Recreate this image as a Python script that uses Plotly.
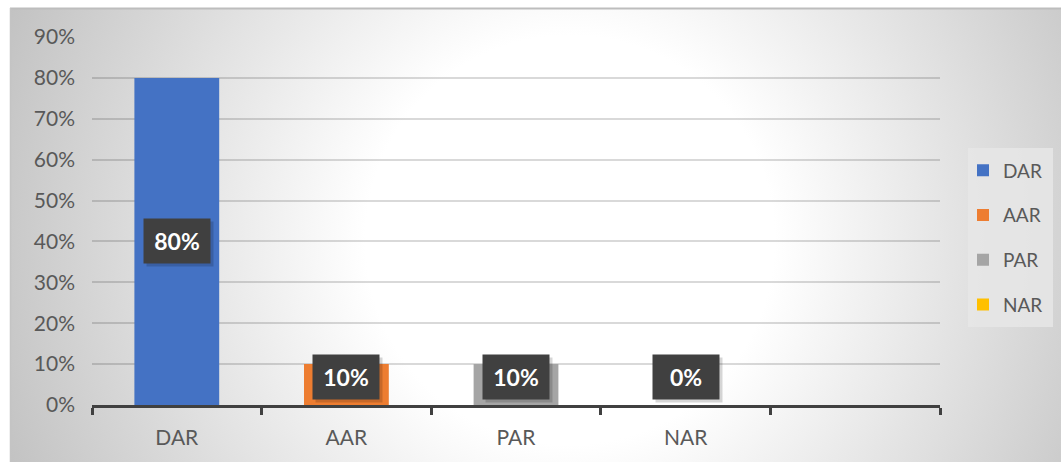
import base64
import plotly.graph_objects as go

# ---- data ----
categories = ["DAR", "AAR", "PAR", "NAR"]
values = [0.80, 0.10, 0.10, 0.00]
colors = ["#4472C4", "#ED7D31", "#A5A5A5", "#FFC000"]
y_max = 0.9
y_step = 0.1

W, H = 1061, 462
ML, MR, MT, MB = 92, 121, 37, 57
n_slots = len(categories) + 1  # one empty trailing slot

# ---- background (radial gradient panel + legend box) ----
svg = f'''<svg xmlns="http://www.w3.org/2000/svg" width="{W}" height="{H}" viewBox="0 0 {W} {H}">
<defs>
<radialGradient id="g" gradientUnits="userSpaceOnUse" cx="570" cy="240" r="620">
<stop offset="0" stop-color="#ffffff"/>
<stop offset="0.33" stop-color="#ffffff"/>
<stop offset="1" stop-color="#c0c0c0"/>
</radialGradient>
</defs>
<rect x="0" y="0" width="{W}" height="{H}" fill="#ffffff"/>
<rect x="10" y="8" width="{W}" height="{H}" fill="url(#g)"/>
<line x1="10" y1="8.5" x2="{W}" y2="8.5" stroke="#bdbdbd" stroke-width="2"/>
<line x1="10.5" y1="8" x2="10.5" y2="{H}" stroke="#c4c4c4" stroke-width="1.5"/>
<rect x="968" y="148" width="85" height="179" fill="#e6e6e6" fill-opacity="0.85"/>
</svg>'''
bg_src = "data:image/svg+xml;base64," + base64.b64encode(svg.encode()).decode()

pw = W - ML - MR
ph = H - MT - MB
FONT = "Lato, Open Sans, sans-serif"

fig = go.Figure()
for i, (c, v, col) in enumerate(zip(categories, values, colors)):
    fig.add_trace(go.Bar(
        x=[i], y=[v], name=c, marker=dict(color=col, line=dict(width=0)),
        width=0.5, legendgroup=c, hoverinfo="skip",
    ))

annotations = []
for i, v in enumerate(values):
    ylab = max(v / 2, 0.068)
    annotations.append(dict(
        x=i, y=ylab, xref="x", yref="y", text=" ", showarrow=False,
        width=64, height=42, bgcolor="rgba(0,0,0,0.16)", xshift=3, yshift=-3,
    ))
    annotations.append(dict(
        x=i, y=ylab, xref="x", yref="y", text=f"<b>{v:.0%}</b>", showarrow=False,
        width=64, height=42, bgcolor="#404040", valign="middle",
        font=dict(family=FONT, size=23, color="#ffffff"),
    ))

fig.update_layout(
    width=W, height=H,
    margin=dict(l=ML, r=MR, t=MT, b=MB, pad=0),
    paper_bgcolor="rgba(0,0,0,0)",
    plot_bgcolor="rgba(0,0,0,0)",
    barmode="overlay",
    font=dict(family=FONT, size=21, color="#595959"),
    images=[dict(
        source=bg_src, xref="paper", yref="paper",
        x=-ML / pw, y=1 + MT / ph, sizex=W / pw, sizey=H / ph,
        xanchor="left", yanchor="top", sizing="stretch", layer="below",
    )],
    xaxis=dict(
        range=[-0.5, n_slots - 0.5],
        tickmode="array", tickvals=list(range(len(categories))), ticktext=categories,
        ticks="", showgrid=False, zeroline=False,
        showline=True, linecolor="#404040", linewidth=3,
        ticklabelstandoff=12,
        minor=dict(tickmode="array", tickvals=[k - 0.5 for k in range(n_slots + 1)],
                   ticks="outside", ticklen=7, tickwidth=3, tickcolor="#404040",
                   showgrid=False),
        fixedrange=True,
    ),
    yaxis=dict(
        range=[0, y_max], dtick=y_step, tick0=0, tickformat=".0%",
        showgrid=True, gridcolor="rgba(0,0,0,0.15)", gridwidth=1.5,
        zeroline=False, showline=False, ticks="",
        ticklabelstandoff=16, fixedrange=True,
    ),
    legend=dict(
        x=(963 - ML) / pw, xanchor="left", y=(H - MB - 237.5) / ph, yanchor="middle",
        xref="paper", yref="paper",
        bgcolor="rgba(0,0,0,0)", borderwidth=0,
        font=dict(family=FONT, size=19, color="#595959"),
        tracegroupgap=17, itemwidth=30, traceorder="grouped",
    ),
    annotations=annotations,
    showlegend=True,
)

fig.write_html("out.html", config={"displayModeBar": False},
               post_script="document.body.style.margin='0';")
